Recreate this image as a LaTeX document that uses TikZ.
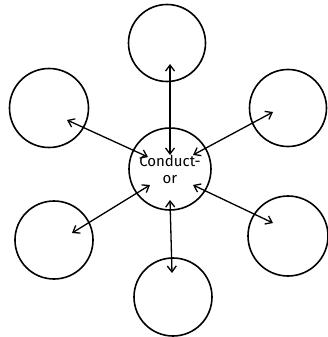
\documentclass[tikz,border=0pt]{standalone}
\usepackage{fontspec}
\setmainfont{Fira Sans}
\usetikzlibrary{arrows.meta}
\begin{document}
\begin{tikzpicture}[x=1pt,y=-1pt,
  ring/.style={circle,draw,line width=1.6pt,inner sep=0pt},
  link/.style={line width=1.3pt,{Straight Barb[length=6pt,width=9pt]}-{Straight Barb[length=6pt,width=9pt]}}]
\useasboundingbox (0,0) rectangle (327,337);
\node[ring,minimum size=82pt,font=\fontsize{15}{17}\selectfont,align=center] (c) at (170,169) {Conduct-\\or};
\node[ring,minimum size=77pt] (t) at (167,43) {};
\node[ring,minimum size=79pt] (ul) at (49,108) {};
\node[ring,minimum size=77pt] (ur) at (288,108) {};
\node[ring,minimum size=78pt] (ll) at (54,240) {};
\node[ring,minimum size=80pt] (lr) at (288,236) {};
\node[ring,minimum size=78pt] (b) at (173,297) {};
\coordinate (t1) at (170,64); \coordinate (t2) at (170,155);
\coordinate (ul1) at (67,120); \coordinate (ul2) at (148,157);
\coordinate (ur1) at (273,112); \coordinate (ur2) at (193,155);
\coordinate (ll1) at (72,233); \coordinate (ll2) at (150,185);
\coordinate (lr1) at (273,223); \coordinate (lr2) at (193,185);
\coordinate (b1) at (170,200); \coordinate (b2) at (172,273);
\draw[link] (t1) -- (t2);
\draw[link] (ul1) -- (ul2);
\draw[link] (ur1) -- (ur2);
\draw[link] (ll1) -- (ll2);
\draw[link] (lr1) -- (lr2);
\draw[link] (b1) -- (b2);
\end{tikzpicture}
\end{document}
